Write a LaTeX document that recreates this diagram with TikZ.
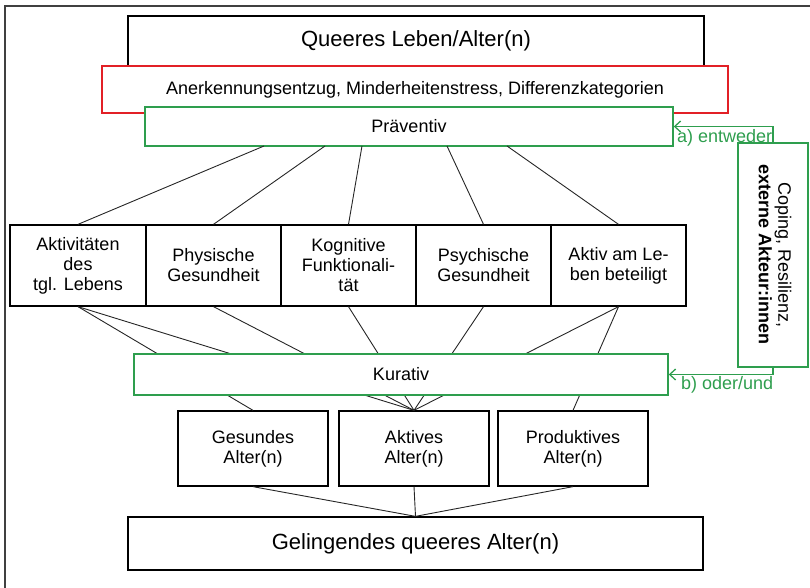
\documentclass[tikz,border=0pt]{standalone}
\usepackage{fontspec}
\setmainfont{Liberation Sans}
\usetikzlibrary{arrows.meta}
\definecolor{gr}{RGB}{46,158,78}
\definecolor{rd}{RGB}{226,32,38}
\newcommand\fsbig{\fontsize{22}{26}\selectfont}
\newcommand\fsnorm{\fontsize{18}{20}\selectfont}
\newcommand\fsred{\fontsize{18}{20}\selectfont}
\newcommand\fsrot{\fontsize{18}{19.5}\selectfont}
\begin{document}
\begin{tikzpicture}[x=1pt,y=-1pt,
  box/.style={draw=black, line width=1.3pt, fill=white, align=center, inner sep=1pt, font=\fsnorm},
  gbox/.style={draw=gr, line width=1.4pt, fill=white, align=center, inner sep=1pt, font=\fsnorm},
  conn/.style={line width=0.9pt, black!85},
  garrow/.style={draw=gr, line width=1.3pt, -{Straight Barb[length=6pt,width=11pt]}},
  glabel/.style={text=gr, font=\fsnorm, inner sep=0pt}]
\useasboundingbox (0,0) rectangle (810,588);
% outer frame
\draw[line width=1.5pt, black!75] (5,588) -- (5,6) -- (810,6);

% top
\node[box, font=\fsbig, minimum width=576pt, minimum height=50pt] (queer) at (416,41) {Queeres Leben/Alter(n)};
\node[draw=rd, line width=1.3pt, fill=white, inner sep=1pt, font=\fsred, minimum width=626pt, minimum height=47pt] (stress) at (415,89.5) {Anerkennungsentzug, Minderheitenstress, Differenzkategorien};
\node[gbox, minimum width=528pt, minimum height=39pt] (prae) at (409,126.5) {Präventiv};

% five boxes
\node[box, minimum width=136pt, minimum height=81pt] (b1) at (78,265.5) {Aktivitäten\\des\\tgl. Lebens};
\node[box, minimum width=135pt, minimum height=81pt] (b2) at (213.5,265.5) {Physische\\Gesundheit};
\node[box, minimum width=135pt, minimum height=81pt] (b3) at (348.5,265.5) {Kognitive\\Funktionali-\\tät};
\node[box, minimum width=135pt, minimum height=81pt] (b4) at (483.5,265.5) {Psychische\\Gesundheit};
\node[box, minimum width=135pt, minimum height=81pt] (b5) at (618.5,265.5) {Aktiv am Le-\\ben beteiligt};

% lines from Präventiv to the five boxes
\coordinate (t1) at (264,146);
\coordinate (t2) at (325,146);
\coordinate (t3) at (362,146);
\coordinate (t4) at (447,146);
\coordinate (t5) at (507,146);
\draw[conn] (t1) -- (b1.north);
\draw[conn] (t2) -- (b2.north);
\draw[conn] (t3) -- (b3.north);
\draw[conn] (t4) -- (b4.north);
\draw[conn] (t5) -- (b5.north);

% lower boxes
\node[box, minimum width=150pt, minimum height=75pt] (ges) at (253,448.5) {Gesundes\\Alter(n)};
\node[box, minimum width=150pt, minimum height=75pt] (akt) at (414,448.5) {Aktives\\Alter(n)};
\node[box, minimum width=150pt, minimum height=75pt] (prod) at (573,448.5) {Produktives\\Alter(n)};

% lines from the five boxes to the lower boxes (behind Kurativ)
\draw[conn] (b1.south) -- (ges.north);
\draw[conn] (b1.south) -- (akt.north);
\draw[conn] (b2.south) -- (akt.north);
\draw[conn] (b3.south) -- (akt.north);
\draw[conn] (b4.south) -- (akt.north);
\draw[conn] (b5.south) -- (akt.north);
\draw[conn] (b5.south) -- (prod.north);

\node[gbox, minimum width=534pt, minimum height=41pt] (kur) at (401,374.5) {Kurativ};

% bottom
\node[box, font=\fsbig, minimum width=575pt, minimum height=53pt] (gel) at (415.5,543.5) {Gelingendes queeres Alter(n)};
\draw[conn] (ges.south) -- (gel.north);
\draw[conn] (akt.south) -- (gel.north);
\draw[conn] (prod.south) -- (gel.north);

% coping box
\node[draw=gr, line width=1.4pt, fill=white, minimum width=70pt, minimum height=224pt] (coping) at (773,255) {};
\node[rotate=-90, align=center, font=\fsrot, inner sep=0pt] (copingtxt) at ([xshift=2pt]coping.center) {Coping, Resilienz,\\\textbf{externe Akteur:innen}};

\draw[garrow] (coping.north) |- (prae.east);
\draw[garrow] (coping.south) |- (kur.east);
\node[glabel, anchor=north west] (la) at (677,129.5) {a) entweder};
\node[glabel, anchor=north west] (lb) at (681,376) {b) oder/und};
\end{tikzpicture}
\end{document}
